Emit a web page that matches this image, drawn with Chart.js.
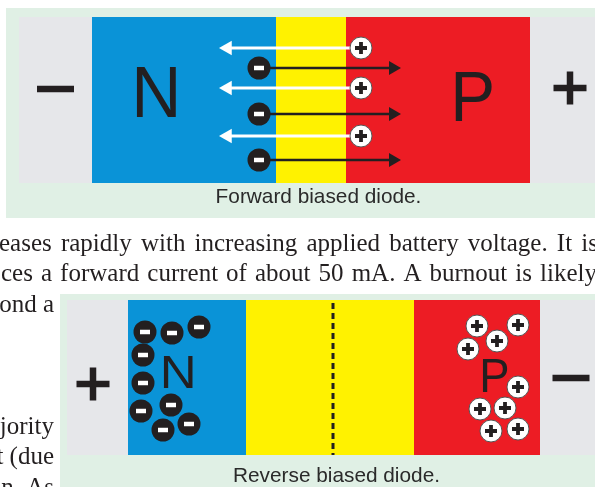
<!DOCTYPE html>
<html>
<head>
<meta charset="utf-8">
<script src="https://cdn.jsdelivr.net/npm/chart.js@4.4.1/dist/chart.umd.min.js"></script>
<style>
  html, body { margin: 0; padding: 0; background: #ffffff; overflow: hidden; }
  #diagram { display: block; }
</style>
</head>
<body>
<canvas id="diagram" width="595" height="487"></canvas>
<script>
// diagram units: the scales run 0..595 across and 0..487 down the page

// layer boundaries along the junction (N | depletion | P)
const layerNames = ["N", "depletion", "P"];
const forwardEdges = [92, 276, 346, 530];
const reverseEdges = [128, 246, 414, 540];

// forward biased: rows of carriers crossing the junction
const forwardElectronX = [259, 259, 259];
const forwardElectronY = [68, 114, 160];
const forwardElectronTo = [401, 401, 401];
const forwardHoleX = [361, 361, 361];
const forwardHoleY = [48, 88, 136];
const forwardHoleTo = [219, 219, 219];

// reverse biased: carriers pulled away from the junction
const reverseElectronX = [145, 172, 199, 143, 143, 141, 171, 163, 189];
const reverseElectronY = [332, 333, 327, 355, 383, 411, 405, 430, 424];
const reverseHoleX = [477, 518, 497, 468, 518, 480, 505, 491, 518];
const reverseHoleY = [326, 325, 341, 349, 387, 409, 408, 431, 429];

const captions = ["Forward biased diode.", "Reverse biased diode."];
const bodyLines = [
    "eases rapidly with increasing applied battery voltage. It is",
    "ces a forward current of about 50 mA. A burnout is likely",
    "ond a",
    "jority",
    "t (due",
    "n. As"
];

const ink = "#231f20";
const panelGreen = "#e0f0e5";
const panelGray = "#e6e7ea";
const layerColours = ["#0a93d7", "#fff200", "#ed1c24"];

function toPoints(xs, ys) {
    return xs.map((x, i) => ({ x: x, y: ys[i] }));
}

function rect(x0, x1, y0, y1, colour, order) {
    return {
        data: [{ x: x0, y: y0 }, { x: x1, y: y0 }],
        fill: { value: y1 },
        backgroundColor: colour,
        borderColor: "rgba(0,0,0,0)",
        borderWidth: 0,
        pointRadius: 0,
        order: order
    };
}

function arrow(x0, x1, y, colour, width, head) {
    const dir = x1 > x0 ? 1 : -1;
    return {
        data: [{ x: x0, y: y }, { x: x1 - dir * head, y: y }],
        borderColor: colour,
        borderWidth: width,
        fill: false,
        pointStyle: "triangle",
        pointRotation: dir > 0 ? 90 : -90,
        pointRadius: [0, head],
        pointBackgroundColor: colour,
        pointBorderWidth: 0,
        order: 4
    };
}

function markers(points, style, radius, fillCol, borderCol, borderW, order) {
    return {
        data: points,
        showLine: false,
        fill: false,
        pointStyle: style,
        pointRadius: radius,
        pointBackgroundColor: fillCol,
        pointBorderColor: borderCol,
        pointBorderWidth: borderW,
        order: order
    };
}

const datasets = [];

// panels
datasets.push(rect(6, 595, 8, 218, panelGreen, 20));
datasets.push(rect(19, 595, 17, 183, panelGray, 19));
datasets.push(rect(60, 595, 294, 487, panelGreen, 20));
datasets.push(rect(67, 595, 300, 455, panelGray, 19));

// layers
layerNames.forEach((name, i) => {
    datasets.push(rect(forwardEdges[i], forwardEdges[i + 1], 17, 183, layerColours[i], 18));
    datasets.push(rect(reverseEdges[i], reverseEdges[i + 1], 300, 455, layerColours[i], 18));
});

// junction line of the reverse biased diode
datasets.push({
    data: [{ x: 333, y: 303 }, { x: 333, y: 455 }],
    borderColor: ink,
    borderWidth: 3,
    borderDash: [6, 4],
    pointRadius: 0,
    fill: false,
    order: 5
});

// carrier paths
forwardElectronY.forEach((y, i) => {
    datasets.push(arrow(forwardElectronX[i] + 11, forwardElectronTo[i], y, ink, 2.6, 8));
});
forwardHoleY.forEach((y, i) => {
    datasets.push(arrow(forwardHoleX[i] - 11, forwardHoleTo[i], y, "#ffffff", 3.2, 8.5));
});

// carriers
const electrons = toPoints(forwardElectronX, forwardElectronY).concat(toPoints(reverseElectronX, reverseElectronY));
const holes = toPoints(forwardHoleX, forwardHoleY).concat(toPoints(reverseHoleX, reverseHoleY));
datasets.push(markers(electrons, "circle", 11.5, ink, ink, 0, 3));
datasets.push(markers(electrons, "line", 5, ink, "#ffffff", 4.5, 2));
datasets.push(markers(holes, "circle", 11, "#ffffff", "#555555", 1, 3));
datasets.push(markers(holes, "cross", 6, ink, ink, 3.8, 2));

// battery terminals
datasets.push(markers([{ x: 55.5, y: 89 }, { x: 571, y: 378 }], "line", 18.5, ink, ink, 6.5, 2));
datasets.push(markers([{ x: 570, y: 88 }, { x: 93, y: 384 }], "cross", 16.5, ink, ink, 6.5, 2));

function drawJustified(ctx, text, left, right, baseline) {
    const words = text.split(" ");
    const widths = words.map(w => ctx.measureText(w).width);
    const total = widths.reduce((a, b) => a + b, 0);
    const gap = words.length > 1 ? (right - left - total) / (words.length - 1) : 0;
    let x = left;
    words.forEach((w, i) => {
        ctx.fillText(w, x, baseline);
        x += widths[i] + gap;
    });
}

// fit a letter into its ink box (left, right, baseline, cap height)
function drawLetter(ctx, letter, left, right, baseline, cap) {
    ctx.font = Math.round(cap / 0.716) + 'px "Liberation Sans", Arial, sans-serif';
    const m = ctx.measureText(letter);
    const w = m.actualBoundingBoxLeft + m.actualBoundingBoxRight;
    const k = (right - left) / w;
    ctx.save();
    ctx.translate(left, baseline);
    ctx.scale(k, 1);
    ctx.fillText(letter, m.actualBoundingBoxLeft, 0);
    ctx.restore();
}

const diagramText = {
    id: "diagramText",
    afterDatasetsDraw(chart) {
        const ctx = chart.ctx;
        const sx = chart.scales.x;
        const sy = chart.scales.y;
        const px = v => sx.getPixelForValue(v);
        const py = v => sy.getPixelForValue(v);

        ctx.save();
        ctx.fillStyle = ink;
        ctx.textAlign = "left";
        ctx.textBaseline = "alphabetic";

        drawLetter(ctx, "N", px(136), px(176), py(117), 52);
        drawLetter(ctx, "P", px(455), px(492), py(121), 51);
        drawLetter(ctx, "N", px(163), px(193), py(388), 33);
        drawLetter(ctx, "P", px(483), px(508), py(392), 35);

        ctx.fillStyle = "#2a2a2a";
        ctx.font = '20.8px "Liberation Sans", Arial, sans-serif';
        ctx.textAlign = "center";
        ctx.fillText(captions[0], px(318.5), py(203));
        ctx.fillText(captions[1], px(336.5), py(482));

        ctx.fillStyle = ink;
        ctx.font = '25px "Liberation Serif", "Times New Roman", serif';
        ctx.textAlign = "left";
        drawJustified(ctx, bodyLines[0], px(-1), px(598), py(251));
        drawJustified(ctx, bodyLines[1], px(1), px(597), py(281));
        ctx.textAlign = "right";
        ctx.fillText(bodyLines[2], px(54), py(312));
        ctx.fillText(bodyLines[3], px(54), py(434));
        ctx.fillText(bodyLines[4], px(54), py(464));
        ctx.fillText(bodyLines[5], px(54), py(495));
        ctx.restore();
    }
};

new Chart(document.getElementById("diagram"), {
    type: "line",
    data: { datasets: datasets },
    options: {
        responsive: false,
        animation: false,
        events: [],
        devicePixelRatio: 1,
        layout: { autoPadding: false, padding: 0 },
        plugins: {
            legend: { display: false },
            tooltip: { enabled: false }
        },
        scales: {
            x: { type: "linear", min: 0, max: 595, display: false },
            y: { type: "linear", min: 0, max: 487, reverse: true, display: false }
        }
    },
    plugins: [diagramText]
});
</script>
</body>
</html>
